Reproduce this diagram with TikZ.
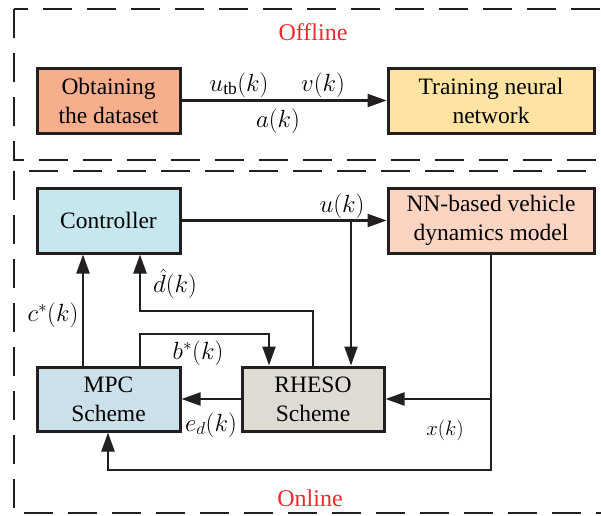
\documentclass[tikz,border=0pt]{standalone}
\usepackage{fontspec}
\setmainfont{Liberation Serif}
\usetikzlibrary{arrows.meta}
\definecolor{cObt}{HTML}{F6AE8D}
\definecolor{cTrain}{HTML}{FEE3A3}
\definecolor{cCtrl}{HTML}{C6E7EE}
\definecolor{cNN}{HTML}{FCD5C2}
\definecolor{cMPC}{HTML}{CCE0EA}
\definecolor{cRH}{HTML}{DEDAD4}
\definecolor{cRed}{HTML}{EE2A2E}
\definecolor{cInk}{HTML}{231F20}
\tikzset{
  blk/.style={draw=cInk, line width=3pt, inner sep=0pt, align=center,
    font=\rmfamily\fontsize{23.5}{29}\selectfont},
  arr/.style={draw=cInk, line width=2.2pt, -{Triangle[length=19pt,width=13pt]}},
  lbl/.style={inner sep=0pt, font=\fontsize{25}{29}\selectfont},
  redlbl/.style={inner sep=0pt, text=cRed, font=\rmfamily\fontsize{24}{28}\selectfont},
  framebox/.style={draw=cInk, line width=1.5pt, dash pattern=on 29pt off 15pt}
}
\begin{document}
\begin{tikzpicture}[x=1pt,y=-1pt]
\useasboundingbox (0,0) rectangle (601,515);
\clip (0,0) rectangle (601,515);
% frames
\draw[framebox] (14,9) rectangle (640,160);
\draw[framebox] (14,171) rectangle (640,513);
\node[redlbl] (off) at (313,32) {Offline};
\node[redlbl] (on) at (310,498) {Online};
% blocks
\node[blk, fill=cObt, minimum width=143pt, minimum height=65pt] (obt) at (108.5,100.5) {Obtaining\\the dataset};
\node[blk, fill=cTrain, minimum width=206pt, minimum height=65pt] (train) at (491,100.5) {Training neural\\network};
\node[blk, fill=cCtrl, minimum width=143pt, minimum height=65pt] (ctrl) at (108.5,220.5) {Controller};
\node[blk, fill=cNN, minimum width=206pt, minimum height=65pt] (nn) at (491,220.5) {NN-based vehicle\\dynamics model};
\node[blk, fill=cMPC, minimum width=143pt, minimum height=64pt] (mpc) at (108.5,399) {MPC\\Scheme};
\node[blk, fill=cRH, minimum width=142pt, minimum height=64pt] (rh) at (313,399) {RHESO\\Scheme};
% coordinates
\coordinate (cx) at (83,300);
\coordinate (dh) at (140,311);
\coordinate (bs) at (140,334);
\coordinate (be) at (269,334);
\coordinate (ub) at (351,220.5);
\coordinate (xc) at (491,470);
\coordinate (xl) at (108,470);
\coordinate (xb) at (491,399);
% connectors
\draw[arr] (obt) -- (train);
\draw[arr] (ctrl) -- (nn);
\draw[arr] (ub) -- (ub |- rh.north);
\draw[arr] (mpc.north -| cx) -- (cx |- ctrl.south);
\draw[arr] (rh.north) -- (rh.north |- dh) -- (dh) -- (dh |- ctrl.south);
\draw[arr] (mpc.north -| bs) -- (bs) -- (be) -- (be |- rh.north);
\draw[arr] (rh) -- (mpc);
\draw[arr] (nn.south -| xc) -- (xc) -- (xl) -- (xl |- mpc.south);
\draw[arr] (xb) -- (rh.east);
% labels
\node[lbl] (l1) at (239,85) {$u_{\mathrm{tb}}(k)$};
\node[lbl] (l2) at (323,85) {$v(k)$};
\node[lbl] (l3) at (278,121) {$a(k)$};
\node[lbl] (l4) at (342,206) {$u(k)$};
\node[lbl] (l5) at (53,315) {$c^*(k)$};
\node[lbl] (l6) at (175,284) {$\hat{d}(k)$};
\node[lbl] (l7) at (198,353) {$b^*(k)$};
\node[lbl] (l8) at (211,425) {$e_d(k)$};
\node[lbl, font=\fontsize{22}{26}\selectfont] (l9) at (445,430) {$x(k)$};
\end{tikzpicture}
\end{document}
